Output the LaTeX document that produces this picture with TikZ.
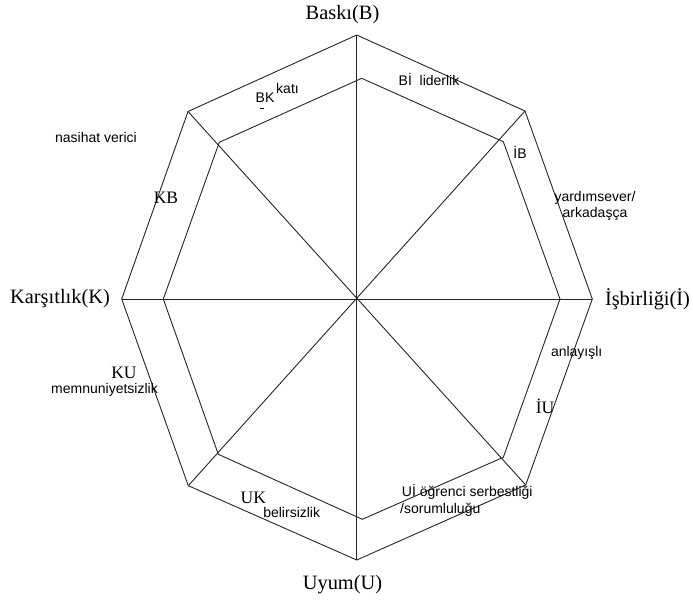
\documentclass[tikz,border=0pt]{standalone}
\usepackage{fontspec}
\setmainfont{Liberation Serif}
\newfontfamily\arialfont{Liberation Sans}
\begin{document}
\begin{tikzpicture}[x=1pt,y=-1pt,
  edge/.style={line width=0.9pt,draw=black!85},
  bigl/.style={inner sep=0pt,font=\fontsize{20.4}{22}\selectfont},
  smalls/.style={inner sep=0pt,font=\fontsize{17.5}{19}\selectfont},
  sans/.style={inner sep=0pt,font=\arialfont\fontsize{14}{15.5}\selectfont}]
\useasboundingbox (0,0) rectangle (693,600);
% outer octagon
\coordinate (T) at (356.7,35);
\coordinate (UR) at (525,111);
\coordinate (R) at (592.3,299);
\coordinate (LR) at (525.7,485);
\coordinate (B) at (356.7,560);
\coordinate (LL) at (188.3,485.7);
\coordinate (L) at (121.7,299);
\coordinate (UL) at (188,111.5);
% inner octagon
\coordinate (iT) at (361.7,78.3);
\coordinate (iUR) at (503.3,141.7);
\coordinate (iR) at (560,299);
\coordinate (iLR) at (503.3,457.3);
\coordinate (iB) at (362.3,519.3);
\coordinate (iLL) at (218.3,454.3);
\coordinate (iL) at (163.3,299);
\coordinate (iUL) at (219.3,142.3);
\draw[edge] (T) -- (UR) -- (R) -- (LR) -- (B) -- (LL) -- (L) -- (UL) -- cycle;
\draw[edge] (iT) -- (iUR) -- (iR) -- (iLR) -- (iB) -- (iLL) -- (iL) -- (iUL) -- cycle;
\draw[edge] (L) -- (R);
\draw[edge] (T) -- (B);
\draw[edge] (UL) -- (LR);
\draw[edge] (UR) -- (LL);
% main labels
\node[bigl] (nB) at (342.5,15) {Baskı(B)};
\node[bigl] (nU) at (342.5,585) {Uyum(U)};
\node[bigl] (nK) at (60,299) {Karşıtlık(K)};
\node[bigl] (nI) at (647.5,299) {İşbirliği(İ)};
% sector labels
\node[sans] (nas) at (96,137) {nasihat verici};
\node[smalls] (kb) at (166,197.5) {KB};
\node[sans] (bk) at (265,97.5) {BK};
\node[sans] (kati) at (287.5,88) {katı};
\coordinate (d1) at (259.9,108.6);
\coordinate (d2) at (263.6,108.6);
\draw[line width=0.9pt] (d1) -- (d2);
\node[sans] (bi) at (429,79.5) {Bİ\ \ liderlik};
\node[sans] (ib) at (520,152) {İB};
\node[sans,align=center] (yard) at (595,206) {yardımsever/\\arkadaşça};
\node[sans] (anl) at (576.7,353) {anlayışlı};
\node[smalls] (iu) at (545,406) {İU};
\node[smalls] (ku) at (124,373) {KU};
\node[sans] (memn) at (104.5,390) {memnuniyetsizlik};
\node[sans,anchor=west] (ui) at (401.7,491.7) {Uİ öğrenci serbestliği};
\node[sans,anchor=west] (sor) at (400,509.3) {/sorumluluğu};
\node[smalls] (uk) at (253.3,498.3) {UK};
\node[sans] (bel) at (291.7,512.3) {belirsizlik};
\end{tikzpicture}
\end{document}
